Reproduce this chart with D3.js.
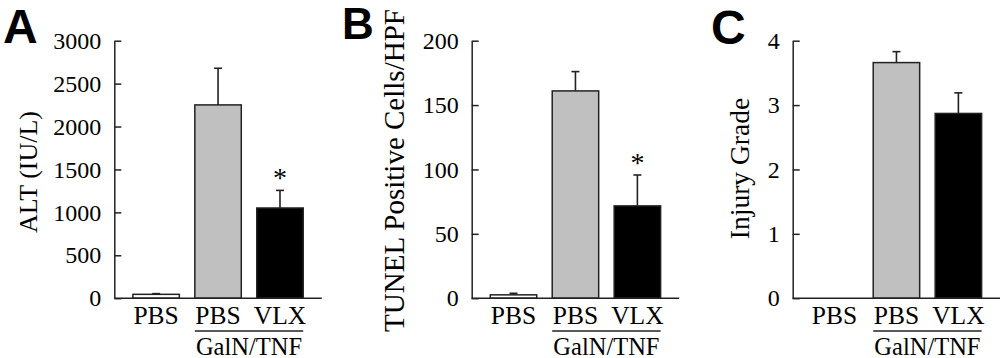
<!DOCTYPE html>
<html><head><meta charset="utf-8">
<script src="https://cdn.jsdelivr.net/npm/d3@7"></script>
<style>body{margin:0;background:#fff}svg{display:block}</style>
</head><body>
<svg id="c" width="1000" height="358"></svg>
<script>
// ---- data ----
const categories = ["PBS", "PBS", "VLX"];
const groupLabel = "GalN/TNF";
const barColors = ["#ffffff", "#c0c0c0", "#000000"];

const altValues = [45, 2252, 1051];
const altErrors = [8, 427, 205];
const altSig = [false, false, true];
const altTicks = [0, 500, 1000, 1500, 2000, 2500, 3000];

const tunelValues = [2.6, 161, 71.7];
const tunelErrors = [1.2, 15, 24];
const tunelSig = [false, false, true];
const tunelTicks = [0, 50, 100, 150, 200];

const injuryValues = [0, 3.66, 2.87];
const injuryErrors = [0, 0.17, 0.32];
const injurySig = [false, false, false];
const injuryTicks = [0, 1, 2, 3, 4];

const panels = [
  {letter: "A", title: "ALT (IU/L)", values: altValues, errors: altErrors, sig: altSig, ticks: altTicks, max: 3000,
   x0: 114.3, titleX: 28, titleY: 172, titleSize: 26, letterX: 3, letterY: 43, letterSize: 48},
  {letter: "B", title: "TUNEL Positive Cells/HPF", values: tunelValues, errors: tunelErrors, sig: tunelSig, ticks: tunelTicks, max: 200,
   x0: 471.7, titleX: 394, titleY: 170.5, titleSize: 29, letterX: 342, letterY: 39, letterSize: 44},
  {letter: "C", title: "Injury Grade", values: injuryValues, errors: injuryErrors, sig: injurySig, ticks: injuryTicks, max: 4,
   x0: 792.7, titleX: 739, titleY: 168.5, titleSize: 27.5, letterX: 711, letterY: 44, letterSize: 48}
];

const svg = d3.select("#c");
const yTop = 40.7, yBot = 298.2, plotW = 207.5;
const serif = "'Liberation Serif','Times New Roman',serif";
const ink = "#222";

panels.forEach(p => {
  const g = svg.append("g");
  const x = d3.scaleBand().domain(d3.range(categories.length)).range([p.x0, p.x0 + plotW])
    .paddingInner(0.25).paddingOuter(0.3);
  const y = d3.scaleLinear().domain([0, p.max]).range([yBot, yTop]);

  // bars
  g.selectAll("rect.bar").data(p.values).join("rect")
    .attr("class", "bar")
    .attr("x", (d, i) => x(i)).attr("width", x.bandwidth())
    .attr("y", d => y(d)).attr("height", d => y(0) - y(d))
    .attr("fill", (d, i) => barColors[i])
    .attr("stroke", (d, i) => d > 0 ? ink : "none").attr("stroke-width", 1.5);

  // error bars
  const eg = g.selectAll("g.err").data(p.values.map((v, i) => ({v, e: p.errors[i], i})).filter(d => d.e > 0)).join("g");
  eg.append("line")
    .attr("x1", d => x(d.i) + x.bandwidth() / 2).attr("x2", d => x(d.i) + x.bandwidth() / 2)
    .attr("y1", d => y(d.v)).attr("y2", d => y(d.v + d.e))
    .attr("stroke", ink).attr("stroke-width", 1.6);
  eg.append("line")
    .attr("x1", d => x(d.i) + x.bandwidth() / 2 - 4).attr("x2", d => x(d.i) + x.bandwidth() / 2 + 4)
    .attr("y1", d => y(d.v + d.e)).attr("y2", d => y(d.v + d.e))
    .attr("stroke", ink).attr("stroke-width", 1.6);

  // significance
  g.selectAll("text.sig").data(p.values.map((v, i) => ({v, e: p.errors[i], i, s: p.sig[i]})).filter(d => d.s)).join("text")
    .attr("x", d => x(d.i) + x.bandwidth() / 2).attr("y", d => y(d.v + d.e) - 3)
    .attr("text-anchor", "middle").style("font-family", serif).style("font-size", "28px").attr("fill", "#000")
    .text("*");

  // y axis
  const ya = d3.axisLeft(y).tickValues(p.ticks).tickFormat(d3.format("d"))
    .tickSizeInner(-7).tickSizeOuter(0).tickPadding(13);
  const yg = g.append("g").attr("transform", `translate(${p.x0},0)`).call(ya);
  yg.select(".domain").attr("stroke", ink).attr("stroke-width", 1.5);
  yg.selectAll(".tick line").attr("stroke", ink).attr("stroke-width", 1.5);
  yg.selectAll(".tick text").style("font-family", serif).style("font-size", "24px").attr("fill", "#000");

  // x axis line
  g.append("line").attr("x1", p.x0).attr("x2", p.x0 + plotW).attr("y1", yBot).attr("y2", yBot)
    .attr("stroke", ink).attr("stroke-width", 1.5);

  // category labels
  g.selectAll("text.cat").data(categories).join("text")
    .attr("x", (d, i) => x(i) + x.bandwidth() / 2).attr("y", 323.5)
    .attr("text-anchor", "middle").style("font-family", serif).style("font-size", "25.5px").attr("fill", "#000")
    .text(d => d);

  // group underline + label
  const gx1 = x(1), gx2 = x(2) + x.bandwidth();
  g.append("line").attr("x1", gx1).attr("x2", gx2).attr("y1", 331).attr("y2", 331)
    .attr("stroke", ink).attr("stroke-width", 1.5);
  g.append("text").attr("x", (gx1 + gx2) / 2).attr("y", 354.5)
    .attr("text-anchor", "middle").style("font-family", serif).style("font-size", "24.5px").attr("fill", "#000")
    .text(groupLabel);

  // y title
  g.append("text").attr("transform", `translate(${p.titleX},${p.titleY}) rotate(-90)`)
    .attr("text-anchor", "middle").attr("dominant-baseline", "central")
    .style("font-family", serif).style("font-size", p.titleSize + "px").attr("fill", "#000")
    .text(p.title);

  // panel letter
  g.append("text").attr("x", p.letterX).attr("y", p.letterY)
    .style("font-family", "'Liberation Sans',Arial,sans-serif").style("font-weight", "bold")
    .style("font-size", p.letterSize + "px").attr("fill", "#000").text(p.letter);
});
</script>
</body></html>
